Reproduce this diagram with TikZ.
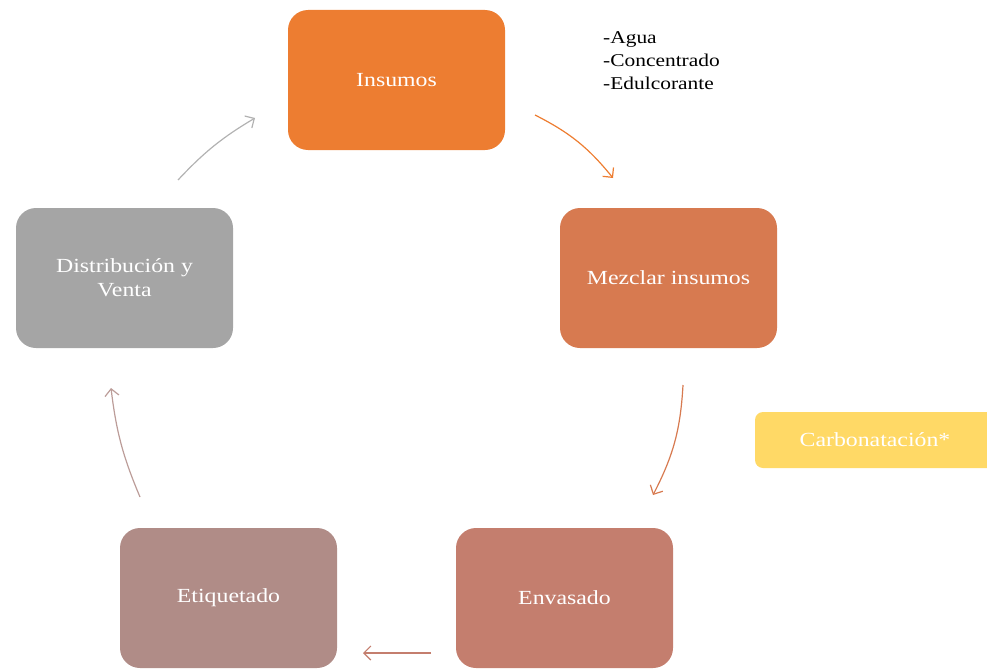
\documentclass[tikz,border=0pt]{standalone}
\usepackage{fontspec}
\setmainfont{Liberation Serif}[FakeStretch=1.19]
\usetikzlibrary{arrows.meta}
\definecolor{cIns}{HTML}{ED7D31}
\definecolor{cMez}{HTML}{D77A50}
\definecolor{cEnv}{HTML}{C47E6E}
\definecolor{cEti}{HTML}{B08C87}
\definecolor{cDis}{HTML}{A5A5A5}
\definecolor{cCar}{HTML}{FFD966}
\tikzset{
  stepbox/.style={rounded corners=20pt, minimum width=217pt, minimum height=140pt,
    inner sep=0pt, text=white, align=center,
    font=\fontsize{20}{24}\selectfont},
  flow/.style={line width=1.2pt, -{Straight Barb[length=7pt,width=14pt]}},
}
\begin{document}
\begin{tikzpicture}[x=1pt,y=-1pt]
\useasboundingbox (0,0) rectangle (987,669);
\clip (0,0) rectangle (987,669);
\node[stepbox, fill=cIns] (ins) at (396.5,80) {Insumos};
\node[stepbox, fill=cMez] (mez) at (668.5,278) {Mezclar insumos};
\node[stepbox, fill=cEnv] (env) at (564.5,598) {Envasado};
\node[stepbox, fill=cEti] (eti) at (228.5,598) {Etiquetado};
\node[stepbox, fill=cDis] (dis) at (124.5,278) {Distribución y\\Venta};
\node[rounded corners=8pt, fill=cCar, minimum width=240pt, minimum height=56pt,
  inner sep=0pt, text=white, font=\fontsize{20}{24}\selectfont] (car) at (875,440) {Carbonatación*};
\node[anchor=north west, align=left, inner sep=0pt, text=black,
  font=\fontsize{18}{23}\selectfont] (lst) at (603,31) {-Agua\\-Concentrado\\-Edulcorante};
\coordinate (a1) at (535,115); \coordinate (b1) at (613,178);
\coordinate (a2) at (683,385); \coordinate (b2) at (653,495);
\coordinate (a3) at (431,653); \coordinate (b3) at (363,653);
\coordinate (a4) at (140,497); \coordinate (b4) at (111,388);
\coordinate (a5) at (178,180); \coordinate (b5) at (255,118);
\draw[flow, cIns] (a1) to[bend left=12] (b1);
\draw[flow, cMez] (a2) to[bend left=12] (b2);
\draw[flow, cEnv] (a3) -- (b3);
\draw[flow, cEti!85] (a4) to[bend left=8] (b4);
\draw[flow, cDis!85] (a5) to[bend left=8] (b5);
\end{tikzpicture}
\end{document}
